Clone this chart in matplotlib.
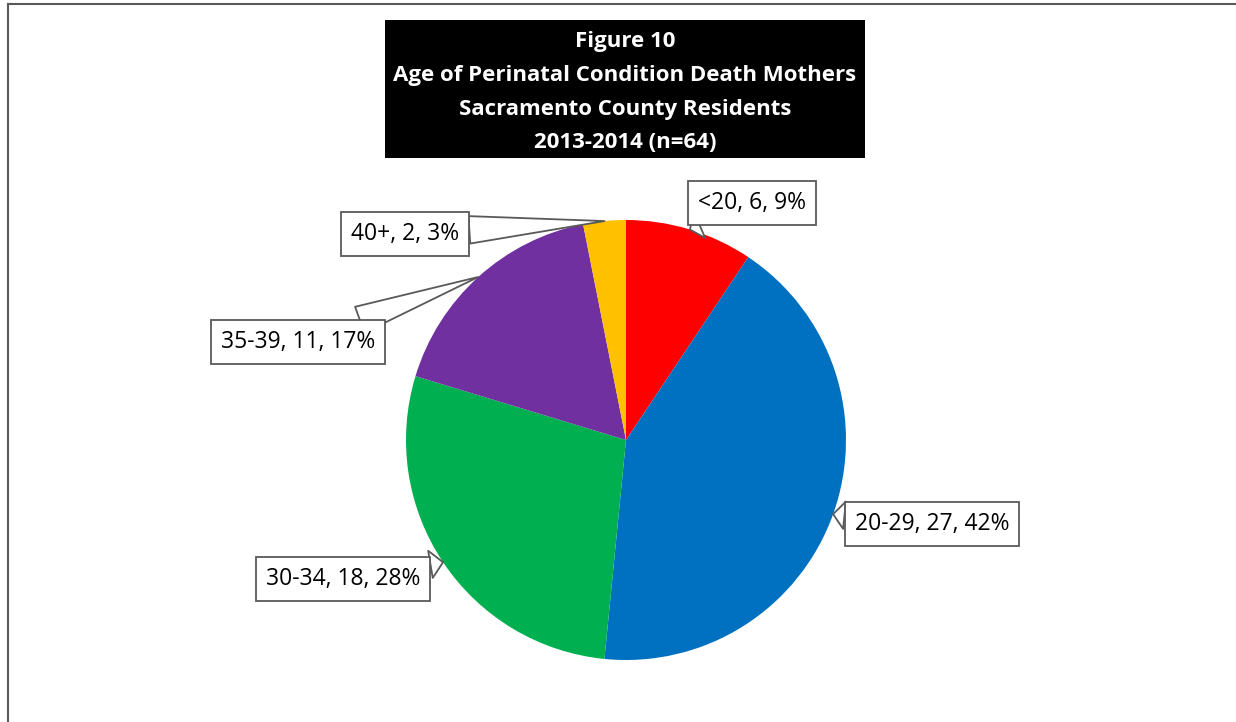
import numpy as np
import matplotlib
matplotlib.use("Agg")
from matplotlib import pyplot as plt
from matplotlib.patches import Rectangle
from matplotlib.lines import Line2D

# datos del grafico
categorias = ["<20", "20-29", "30-34", "35-39", "40+"]
valores = [6, 27, 18, 11, 2]
porcentajes = [9, 42, 28, 17, 3]
colores = ["#FF0000", "#0070C0", "#00B050", "#7030A0", "#FFC000"]
titulo = ["Figure 10", "Age of Perinatal Condition Death Mothers",
          "Sacramento County Residents", "2013-2014 (n=64)"]

# posicion de las cajas de etiquetas (pixeles, y desde abajo)
pos_etiquetas = [(752, 519), (932, 198), (343, 143), (298, 380), (405, 488)]

W, H = 1236, 722
fig = plt.figure(figsize=(W / 100, H / 100), dpi=100)
ax = fig.add_axes([0, 0, 1, 1])

centro = (626, H - 440)
radio = 220
wedges, _ = ax.pie(valores, colors=colores, startangle=90, counterclock=False,
                   center=centro, radius=radio, frame=True)
ax.set_xlim(0, W)
ax.set_ylim(0, H)
ax.set_aspect("equal")
ax.axis("off")

gris = "#595959"
for w, cat, v, p, pos in zip(wedges, categorias, valores, porcentajes, pos_etiquetas):
    ang = np.deg2rad((w.theta1 + w.theta2) / 2)
    punta = (centro[0] + radio * np.cos(ang), centro[1] + radio * np.sin(ang))
    ax.annotate(f"{cat}, {v}, {p}%", xy=punta, xytext=pos, ha="center", va="center",
                fontsize=16.5, family="Open Sans",
                bbox=dict(boxstyle="square,pad=0.42", fc="white", ec=gris, lw=1.3),
                arrowprops=dict(arrowstyle="wedge,tail_width=1.2,shrink_factor=0.5",
                                fc="white", ec=gris, lw=1.3, shrinkA=0, shrinkB=0))

# caja del titulo
ax.add_patch(Rectangle((385, H - 158), 480, 138, fc="black", ec="none"))
for i, linea in enumerate(titulo):
    ax.text(625, H - 41 - i * 34, linea, ha="center", va="center", color="white",
            fontsize=16, fontweight="bold", family="Open Sans")

# marco
fig.add_artist(Line2D([8 / W, 1], [1 - 4 / H, 1 - 4 / H], color=gris, lw=1.5))
fig.add_artist(Line2D([8 / W, 8 / W], [0, 1 - 4 / H], color=gris, lw=1.5))

fig.savefig("out.png", dpi=100)
